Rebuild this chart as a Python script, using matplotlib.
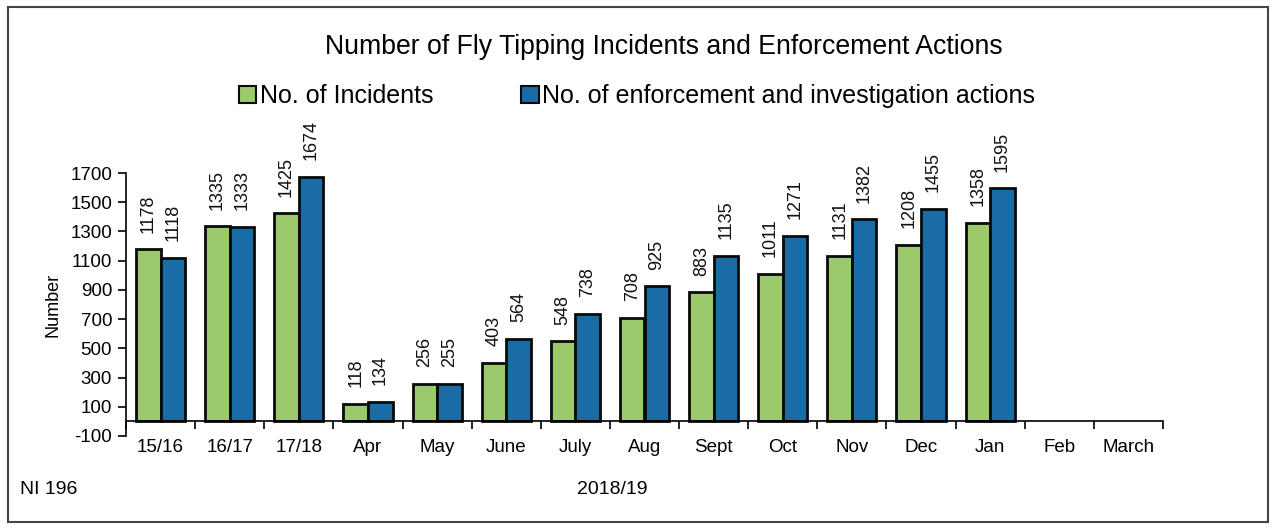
import matplotlib
matplotlib.use("Agg")
import matplotlib.pyplot as plt
import numpy as np
from matplotlib.patches import Rectangle

plt.rcParams['font.family'] = ['Liberation Sans', 'DejaVu Sans']

categories = ["15/16", "16/17", "17/18", "Apr", "May", "June", "July", "Aug",
              "Sept", "Oct", "Nov", "Dec", "Jan", "Feb", "March"]
incidents = [1178, 1335, 1425, 118, 256, 403, 548, 708, 883, 1011, 1131, 1208, 1358, None, None]
actions = [1118, 1333, 1674, 134, 255, 564, 738, 925, 1135, 1271, 1382, 1455, 1595, None, None]
yticks = [-100, 100, 300, 500, 700, 900, 1100, 1300, 1500, 1700]

green = "#9cc96b"
blue = "#1a6ca7"

fig = plt.figure(figsize=(12.74, 5.29), dpi=100)
ax = fig.add_axes([126/1274, 1-436/529, (1163-126)/1274, (436-173)/529])

x = np.arange(len(categories))
w = 0.355
inc_vals = [v if v is not None else 0 for v in incidents]
act_vals = [v if v is not None else 0 for v in actions]
mask = [v is not None for v in incidents]

b1 = ax.bar(x[mask] - w/2, np.array(inc_vals)[mask], w, color=green, edgecolor="#0a0a0a",
            linewidth=2.0, label="No. of Incidents")
b2 = ax.bar(x[mask] + w/2, np.array(act_vals)[mask], w, color=blue, edgecolor="#0a0a0a",
            linewidth=2.0, label="No. of enforcement and investigation actions")

for bars in (b1, b2):
    for r in bars:
        h = r.get_height()
        ax.annotate(f"{int(h)}", (r.get_x() + r.get_width()/2, h), xytext=(0, 12),
                    textcoords="offset points", rotation=90, ha="center", va="bottom",
                    fontsize=13, color="#111111")

ax.set_xlim(-0.5, len(categories) - 0.5)
ax.set_ylim(-100, 1700)
ax.set_yticks(yticks)
ax.set_yticklabels([str(t) for t in yticks], fontsize=13.5)
ax.spines['top'].set_visible(False)
ax.spines['right'].set_visible(False)
ax.spines['bottom'].set_position(('data', 0))
ax.spines['bottom'].set_linewidth(1.2)
ax.spines['left'].set_linewidth(1.2)
ax.set_xticks(x)
ax.set_xticklabels(categories, fontsize=13.5)
ax.set_xticks(np.arange(-0.5, len(categories)), minor=True)
ax.tick_params(axis='x', which='major', length=0, pad=13)
ax.tick_params(axis='x', which='minor', length=6, width=1.2, direction='out')
ax.tick_params(axis='y', length=6, width=1.2, direction='out', pad=4)
ax.set_ylabel("Number", fontsize=13, labelpad=6)

fig.text(664/1274, 1-47/529, "Number of Fly Tipping Incidents and Enforcement Actions",
         ha="center", va="center", fontsize=19.2)
leg = fig.legend(handles=[b1, b2], loc="center", bbox_to_anchor=(637/1274, 1-96/529),
                 ncol=2, frameon=False, fontsize=18, handlelength=0.7, handleheight=0.7,
                 handletextpad=0.15, columnspacing=3.5)
for p in leg.get_patches():
    p.set_linewidth(1.5)

fig.text(20/1274, 1-489/529, "NI 196", ha="left", va="center", fontsize=14)
fig.text(612/1274, 1-489/529, "2018/19", ha="center", va="center", fontsize=14)

fig.patches.append(Rectangle((8/1274, 7/529), 1260/1274, 515/529, transform=fig.transFigure,
                             fill=False, edgecolor="#444444", linewidth=1.5))

fig.savefig("out.png", dpi=100)
